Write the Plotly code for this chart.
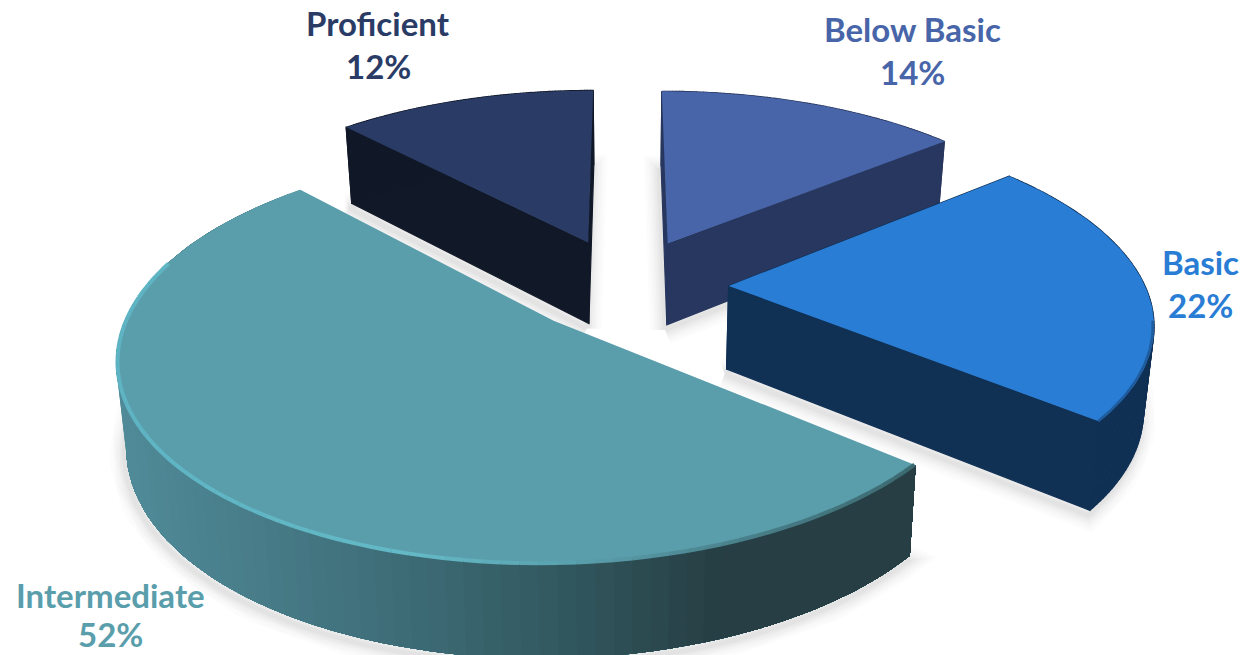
import numpy as np
import plotly.graph_objects as go

# Chart content
categories = ["Below Basic", "Basic", "Intermediate", "Proficient"]
percentages = [14, 22, 52, 12]

# Styling per category
top_colors = ["#4765A8", "#297DD4", "#5A9EAC", "#2A3C66"]
wall_colors = ["#28375F", "#103054", None, "#111928"]
explode = [0.25, 0.245, 0.264, 0.25]
center_nudge = [(0, 0), (0.004, -0.005), (0.0144, 0.01), (0, 0)]
draw_order = [3, 0, 1, 2]

# Perspective camera for the pie plane
X0, Y0 = 625.0, 285.0
A, B, K = 416.0, 190.0, 0.165
DEPTH, SHRINK = 83.0, 0.98

LABEL_CENTERS = {
    "Below Basic": (912, 29, 72),
    "Basic": (1200, 262, 305),
    "Intermediate": (110, 595, 634),
    "Proficient": (378, 23, 66),
}


def project(u, v):
    w = 1 + K * v
    return X0 + A * u / w, Y0 - B * v / w


def floor_of(u, v):
    w = 1 + K * v
    x, y = project(u, v)
    return X0 + (x - X0) * SHRINK, y + DEPTH / w ** 0.6


def lerp_color(x, stops):
    xs = [s[0] for s in stops]
    rgb = [np.interp(x, xs, [s[1][i] for s in stops]) for i in range(3)]
    return "rgb(%d,%d,%d)" % tuple(int(round(c)) for c in rgb)


def poly(fig, xs, ys, fill, line=None, width=0.0):
    fig.add_trace(go.Scatter(
        x=list(xs), y=list(ys), mode="lines", fill="toself", fillcolor=fill,
        line=dict(color=line or fill, width=width),
        hoverinfo="skip", showlegend=False,
    ))


def stroke(fig, xs, ys, color, width):
    fig.add_trace(go.Scatter(
        x=list(xs), y=list(ys), mode="lines",
        line=dict(color=color, width=width),
        hoverinfo="skip", showlegend=False,
    ))


# Slice geometry in plane coordinates, angles clockwise from twelve o'clock
fractions = np.array(percentages) / sum(percentages)
edges = np.concatenate([[0], np.cumsum(fractions)]) * 2 * np.pi
slices = []
for i, name in enumerate(categories):
    th = np.linspace(edges[i], edges[i + 1], 90)
    mid = (edges[i] + edges[i + 1]) / 2
    cu = explode[i] * np.sin(mid) + center_nudge[i][0]
    cv = explode[i] * np.cos(mid) + center_nudge[i][1]
    slices.append(dict(th=th, cu=cu, cv=cv,
                       u=cu + np.sin(th), v=cv + np.cos(th)))

fig = go.Figure()

# Soft ground shadow, widest and faintest first
for i in draw_order:
    s = slices[i]
    us = np.concatenate([[s["cu"]], s["u"], [s["cu"]]])
    vs = np.concatenate([[s["cv"]], s["v"], [s["cv"]]])
    fx, fy = floor_of(us, vs)
    for width, alpha in [(30, 0.010), (25, 0.012), (20, 0.016), (15, 0.02), (10, 0.024), (5, 0.028)]:
        stroke(fig, fx - 2, fy + 5, "rgba(0,0,0,%.3f)" % alpha, width)

wall_stops = [(125, (80, 138, 152)), (420, (60, 106, 116)), (560, (50, 88, 95)),
              (720, (38, 62, 68)), (915, (38, 62, 68))]
rim_stops = [(118, (95, 180, 196)), (420, (100, 185, 198)), (600, (88, 155, 168)),
             (760, (72, 125, 135)), (915, (60, 105, 112))]

for i in draw_order:
    s = slices[i]
    us = np.concatenate([[s["cu"]], s["u"], [s["cu"]]])
    vs = np.concatenate([[s["cv"]], s["v"], [s["cv"]]])
    tx, ty = project(us, vs)
    fx, fy = floor_of(us, vs)

    if wall_colors[i] is None:
        # Shaded outer wall: each band overlaps all later ones, so no seams show
        ax, ay = project(s["u"], s["v"])
        bx, by = floor_of(s["u"], s["v"])
        for k in range(len(ax) - 1, 0, -1):
            color = lerp_color((ax[k] + ax[k - 1]) / 2, wall_stops)
            poly(fig, np.concatenate([ax[:k + 1], bx[:k + 1][::-1]]),
                 np.concatenate([ay[:k + 1], by[:k + 1][::-1]]), color)
    else:
        # Flat side walls, one quad per outline edge
        for k in range(len(us) - 1):
            poly(fig, [tx[k], tx[k + 1], fx[k + 1], fx[k], tx[k]],
                 [ty[k], ty[k + 1], fy[k + 1], fy[k], ty[k]],
                 wall_colors[i], width=1.2)

    # Top face
    poly(fig, tx, ty, top_colors[i])

    # Bevel along the near part of the rim
    if categories[i] == "Intermediate":
        keep = s["th"] < np.radians(288)
        ru = s["cu"] + 0.997 * np.sin(s["th"][keep])
        rv = s["cv"] + 0.997 * np.cos(s["th"][keep])
        rx, ry = project(ru, rv)
        for k in range(len(rx) - 1):
            stroke(fig, rx[k:k + 2], ry[k:k + 2],
                   lerp_color((rx[k] + rx[k + 1]) / 2, rim_stops), 4)
    elif categories[i] == "Basic":
        keep = s["th"] > np.radians(100)
        ru = s["cu"] + 0.997 * np.sin(s["th"][keep])
        rv = s["cv"] + 0.997 * np.cos(s["th"][keep])
        rx, ry = project(ru, rv)
        stroke(fig, rx, ry, "#1F5C9E", 2.5)

# Category and percentage labels
annotations = []
for i, name in enumerate(categories):
    cx, y1, y2 = LABEL_CENTERS[name]
    for text, y in ((name, y1), ("%d%%" % percentages[i], y2)):
        annotations.append(dict(
            x=cx, y=y, xref="x", yref="y", text=text, showarrow=False,
            font=dict(family="Lato", size=33, color=top_colors[i], weight="bold"),
            xanchor="center", yanchor="middle",
        ))

fig.update_layout(
    width=1240, height=655, margin=dict(l=0, r=0, t=0, b=0),
    paper_bgcolor="white", plot_bgcolor="white",
    xaxis=dict(range=[0, 1240], visible=False, fixedrange=True),
    yaxis=dict(range=[655, 0], visible=False, fixedrange=True),
    annotations=annotations, showlegend=False,
)

fig.write_html("out.html", config={"displayModeBar": False})
